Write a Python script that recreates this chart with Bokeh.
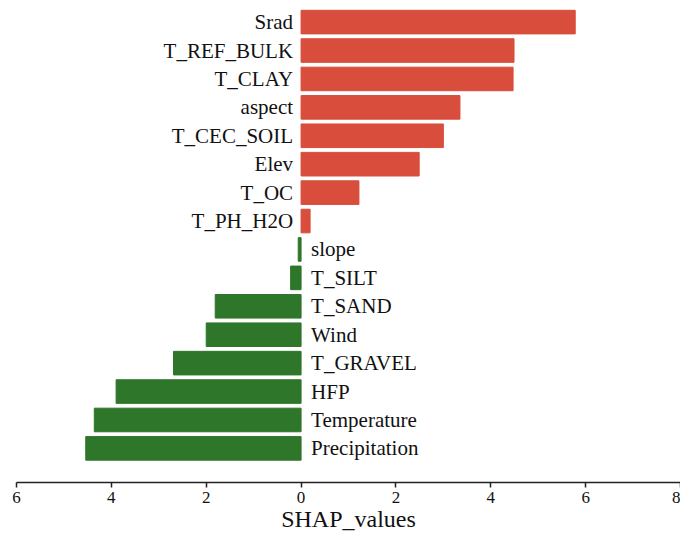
from bokeh.plotting import figure
from bokeh.models import ColumnDataSource, FixedTicker, Range1d
from bokeh.core.properties import value
from bokeh.embed import file_html
from bokeh.resources import INLINE

features = ["Srad", "T_REF_BULK", "T_CLAY", "aspect", "T_CEC_SOIL", "Elev", "T_OC", "T_PH_H2O",
            "slope", "T_SILT", "T_SAND", "Wind", "T_GRAVEL", "HFP", "Temperature", "Precipitation"]
shap_values = [5.78, 4.49, 4.47, 3.35, 3.0, 2.49, 1.22, 0.19,
               -0.06, -0.22, -1.81, -2.0, -2.69, -3.9, -4.36, -4.54]
tick_values = [-6, -4, -2, 0, 2, 4, 6, 8]
tick_labels = ["6", "4", "2", "0", "2", "4", "6", "8"]

POS = "#d84d3b"
NEG = "#2e7629"
FONT = "Liberation Serif"

n = len(features)
ypos = [n - 1 - i for i in range(n)]
colors = [POS if v >= 0 else NEG for v in shap_values]

src = ColumnDataSource(dict(y=ypos, v=shap_values, c=colors, name=features,
                            zero=[0] * n))

p = figure(width=680, height=535, output_backend="svg", toolbar_location=None,
           x_range=Range1d(-6, 8), y_range=Range1d(-1.2, 15.76),
           min_border_left=16, min_border_right=0, min_border_top=0, min_border_bottom=53)
p.outline_line_color = None
p.xgrid.visible = False
p.ygrid.visible = False
p.yaxis.visible = False

p.hbar(y="y", left="zero", right="v", height=0.83, fill_color="c", line_color="c",
       line_width=1, source=src)

pos_idx = [i for i in range(n) if shap_values[i] >= 0]
neg_idx = [i for i in range(n) if shap_values[i] < 0]
pos_src = ColumnDataSource(dict(y=[ypos[i] for i in pos_idx], x=[0] * len(pos_idx),
                                t=[features[i] for i in pos_idx]))
neg_src = ColumnDataSource(dict(y=[ypos[i] for i in neg_idx], x=[0] * len(neg_idx),
                                t=[features[i] for i in neg_idx]))
p.text(x="x", y="y", text="t", source=pos_src, x_offset=-8, text_align="right",
       text_baseline="middle", text_font=value(FONT), text_font_size="21px", text_color="#111111")
p.text(x="x", y="y", text="t", source=neg_src, x_offset=10, text_align="left",
       text_baseline="middle", text_font=value(FONT), text_font_size="21px", text_color="#111111")

ax = p.xaxis[0]
ax.ticker = FixedTicker(ticks=tick_values)
ax.major_label_overrides = {t: l for t, l in zip(tick_values, tick_labels)}
ax.axis_label = "SHAP_values"
ax.axis_label_text_font = FONT
ax.axis_label_text_font_style = "normal"
ax.axis_label_text_font_size = "24px"
ax.axis_label_text_color = "#111111"
ax.axis_label_standoff = 0
ax.major_label_text_font = FONT
ax.major_label_text_font_size = "17px"
ax.major_label_text_color = "#111111"
ax.major_label_standoff = 4
ax.axis_line_color = "#222222"
ax.axis_line_width = 1.5
ax.major_tick_line_color = "#222222"
ax.major_tick_line_width = 1.5
ax.major_tick_out = 5
ax.major_tick_in = 0
ax.minor_tick_line_color = None

open("out.html", "w").write(file_html(p, INLINE))
